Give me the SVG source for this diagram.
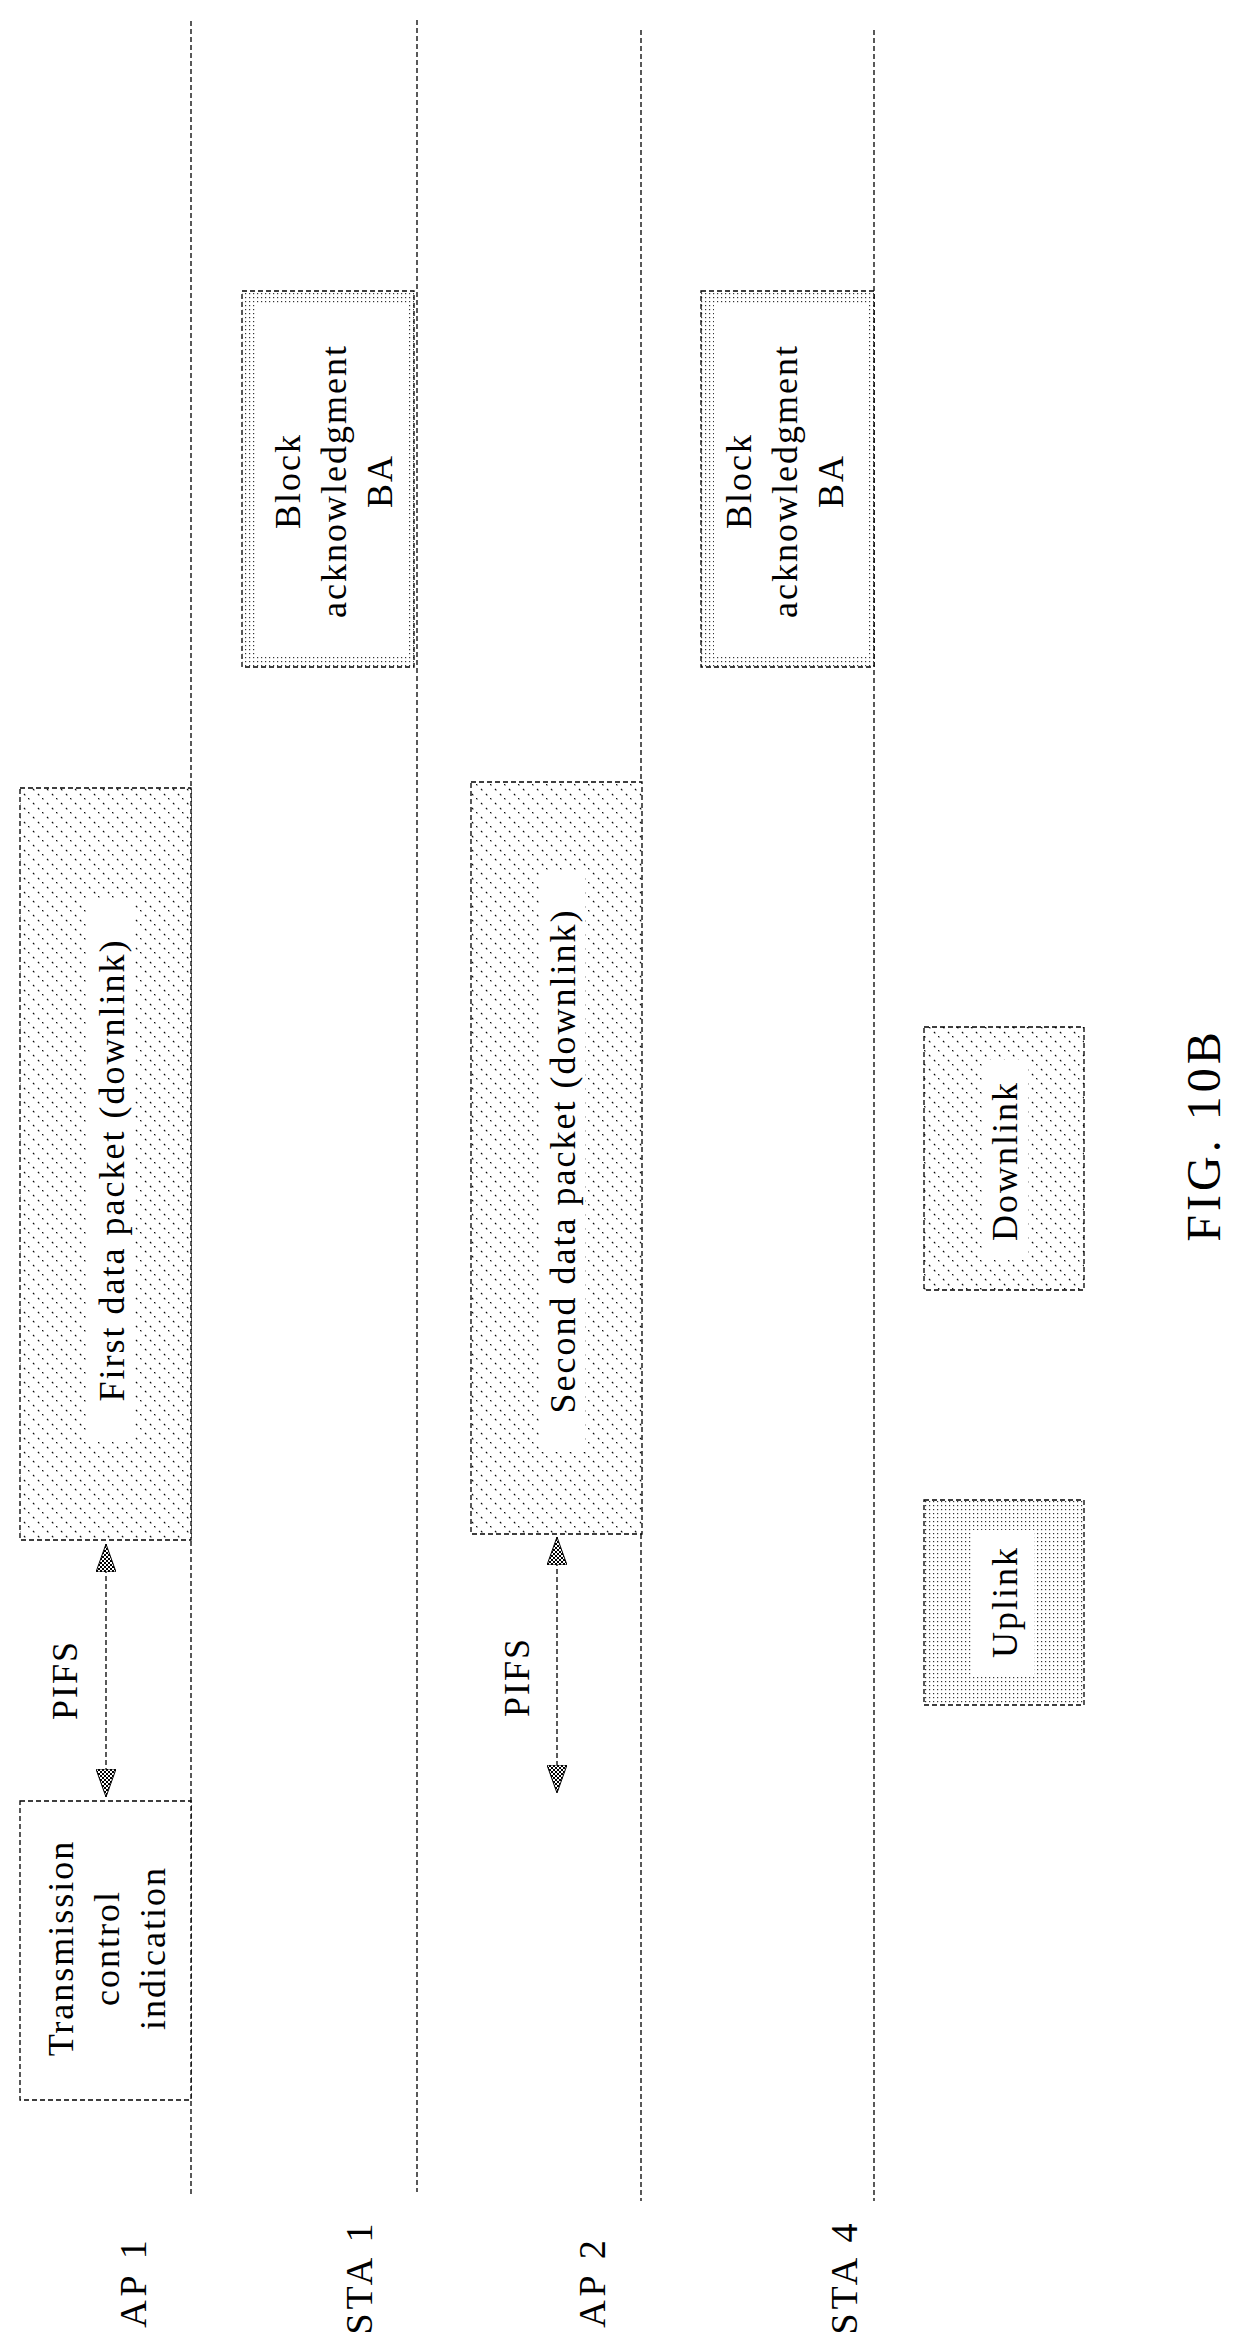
<svg xmlns="http://www.w3.org/2000/svg" width="1234" height="2349" viewBox="0 0 1234 2349">
<style>
.t{font-family:"Liberation Serif","Times New Roman",serif;font-size:36px;fill:#000;text-anchor:middle;letter-spacing:2px}
.lab{font-size:38px;letter-spacing:4px}
.ln{stroke:#000;stroke-width:1.3;stroke-dasharray:5,3;fill:none}
.box{stroke:#000;stroke-width:1.3;stroke-dasharray:5,3}
</style>
<defs>
<pattern id="hatch" width="14" height="14" patternUnits="userSpaceOnUse">
<rect width="14" height="14" fill="#fff"/>
<path d="M0,0 L14,14 M-7,7 L7,21 M7,-7 L21,7" stroke="#000" stroke-width="1.1" stroke-dasharray="2,5"/>
</pattern>
<pattern id="dots" width="4" height="4" patternUnits="userSpaceOnUse">
<rect width="4" height="4" fill="#fff"/>
<rect x="1" y="1" width="1.2" height="1.2" fill="#333"/>
</pattern>
<pattern id="check" width="4" height="4" patternUnits="userSpaceOnUse">
<rect width="4" height="4" fill="#fff"/>
<rect width="2" height="2" fill="#000"/><rect x="2" y="2" width="2" height="2" fill="#000"/>
</pattern>
<marker id="ah" viewBox="0 0 28 20" refX="28" refY="10" markerWidth="28" markerHeight="20" markerUnits="userSpaceOnUse" orient="auto-start-reverse">
<path d="M0,0 L0,20 L28,10 Z" fill="url(#check)" stroke="#000" stroke-width="1"/>
</marker>
</defs>
<g id="lifelines">
<line class="ln" x1="191" y1="21" x2="191" y2="2194"/>
<line class="ln" x1="417" y1="20" x2="417" y2="2192"/>
<line class="ln" x1="641" y1="30" x2="641" y2="2201"/>
<line class="ln" x1="874" y1="30" x2="874" y2="2201"/>
</g>
<g id="labels">
<text class="t lab" transform="translate(146,2282) rotate(-90)">AP 1</text>
<text class="t lab" transform="translate(372,2277) rotate(-90)">STA 1</text>
<text class="t lab" transform="translate(605,2282) rotate(-90)">AP 2</text>
<text class="t lab" transform="translate(857,2277) rotate(-90)">STA 4</text>
</g>
<g id="tci">
<rect class="box" x="20" y="1801" width="171" height="299" fill="#fff"/>
<text class="t" transform="translate(73,1948) rotate(-90)"><tspan x="0" y="0">Transmission</tspan><tspan x="0" y="46">control</tspan><tspan x="0" y="92">indication</tspan></text>
</g>
<g id="data1">
<rect class="box" x="20" y="788" width="171" height="752" fill="url(#hatch)"/>
<rect x="88" y="900" width="46" height="540" fill="#fff"/>
<text class="t" transform="translate(124,1170) rotate(-90)">First data packet (downlink)</text>
</g>
<g id="data2">
<rect class="box" x="471" y="782" width="171" height="752" fill="url(#hatch)"/>
<rect x="539" y="870" width="46" height="582" fill="#fff"/>
<text class="t" transform="translate(575,1161) rotate(-90)">Second data packet (downlink)</text>
</g>
<g id="ba1">
<rect class="box" x="242" y="291" width="172" height="376" fill="url(#dots)"/>
<rect x="255" y="303" width="152" height="352" fill="#fff"/>
<text class="t" transform="translate(300,481) rotate(-90)"><tspan x="0" y="0">Block</tspan><tspan x="0" y="46">acknowledgment</tspan><tspan x="0" y="92">BA</tspan></text>
</g>
<g id="ba2">
<rect class="box" x="701" y="291" width="173" height="376" fill="url(#dots)"/>
<rect x="714" y="303" width="153" height="352" fill="#fff"/>
<text class="t" transform="translate(751,481) rotate(-90)"><tspan x="0" y="0">Block</tspan><tspan x="0" y="46">acknowledgment</tspan><tspan x="0" y="92">BA</tspan></text>
</g>
<g id="downlink">
<rect class="box" x="924" y="1027" width="160" height="263" fill="url(#hatch)"/>
<rect x="982" y="1060" width="46" height="200" fill="#fff"/>
<text class="t" transform="translate(1017,1161) rotate(-90)">Downlink</text>
</g>
<g id="uplink">
<rect class="box" x="924" y="1500" width="160" height="205" fill="url(#dots)"/>
<rect x="972" y="1530" width="62" height="145" fill="#fff"/>
<text class="t" transform="translate(1017,1602) rotate(-90)">Uplink</text>
</g>
<g id="connectors">
<line class="ln" x1="106" y1="1544" x2="106" y2="1797" marker-start="url(#ah)" marker-end="url(#ah)"/>
<line class="ln" x1="557" y1="1537" x2="557" y2="1793" marker-start="url(#ah)" marker-end="url(#ah)"/>
</g>
<text class="t" transform="translate(77,1680) rotate(-90)">PIFS</text>
<text class="t" transform="translate(529,1677) rotate(-90)">PIFS</text>
<text class="t" style="font-size:48px;letter-spacing:4px" transform="translate(1220,1135) rotate(-90)">FIG. 10B</text>
</svg>
